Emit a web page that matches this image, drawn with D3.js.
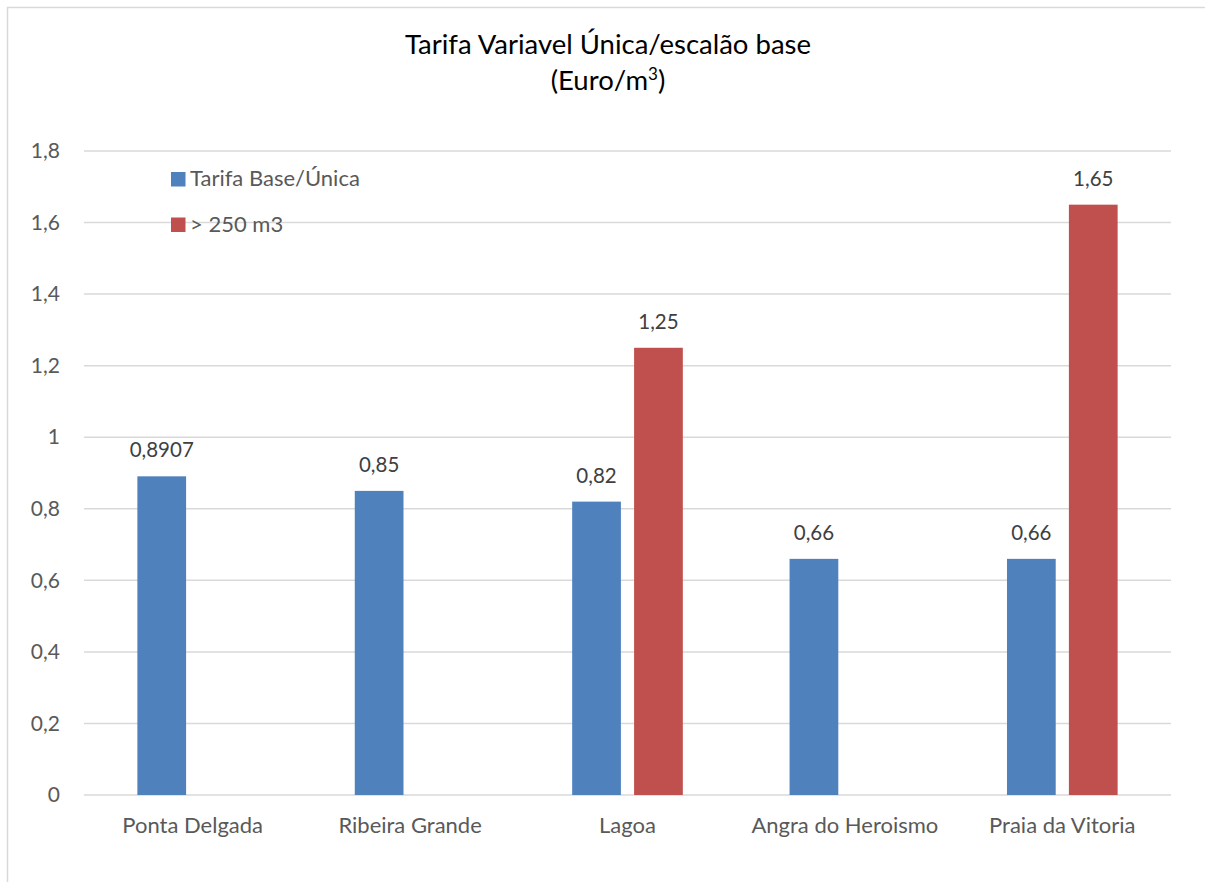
<!DOCTYPE html>
<html>
<head>
<meta charset="utf-8">
<script src="https://cdn.jsdelivr.net/npm/d3@7"></script>
<style>
  html, body { margin: 0; padding: 0; background: #fff; }
  svg { display: block; }
  text { font-family: Lato, "Open Sans", sans-serif; }
</style>
</head>
<body>
<svg id="chart" width="1205" height="882"></svg>
<script>
// Tariff data per municipality (Euro/m3)
const categories = ["Ponta Delgada", "Ribeira Grande", "Lagoa", "Angra do Heroismo", "Praia da Vitoria"];
const seriesNames = ["Tarifa Base/Única", "> 250 m3"];
const tarifaBase = [0.8907, 0.85, 0.82, 0.66, 0.66];
const acima250 = [null, null, 1.25, null, 1.65];
const baseLabels = ["0,8907", "0,85", "0,82", "0,66", "0,66"];
const acimaLabels = [null, null, "1,25", null, "1,65"];
const yTicks = [0, 0.2, 0.4, 0.6, 0.8, 1, 1.2, 1.4, 1.6, 1.8];
const seriesColors = ["#4f81bd", "#c0504d"];

const svg = d3.select("#chart");
const plot = { left: 84, right: 1171, top: 151, bottom: 795 };

// outer frame
svg.append("rect")
  .attr("x", 7.5).attr("y", 7.5)
  .attr("width", 1205).attr("height", 882)
  .attr("fill", "none").attr("stroke", "#d9d9d9").attr("stroke-width", 1.5);

const y = d3.scaleLinear().domain([0, 1.8]).range([plot.bottom, plot.top]);
const x0 = d3.scaleBand().domain(categories)
  .range([plot.left, plot.right])
  .paddingInner(0.491).paddingOuter(0.2455);
const x1 = d3.scaleBand().domain(seriesNames)
  .range([0, x0.bandwidth()])
  .paddingInner(0.213);

// gridlines
svg.append("g").selectAll("line").data(yTicks).join("line")
  .attr("x1", plot.left).attr("x2", plot.right)
  .attr("y1", d => y(d)).attr("y2", d => y(d))
  .attr("stroke", "#d9d9d9").attr("stroke-width", 1.5);

// y axis labels
const fmt = d => String(d).replace(".", ",");
const yAxis = d3.axisLeft(y).tickValues(yTicks).tickFormat(fmt).tickSize(0).tickPadding(0);
const gy = svg.append("g").attr("transform", `translate(60,0)`).call(yAxis);
gy.select(".domain").remove();
gy.selectAll("text")
  .attr("fill", "#595959").attr("font-size", 21)
  .style("font-family", "Lato, 'Open Sans', sans-serif");

// x axis labels
const xAxis = d3.axisBottom(x0).tickSize(0).tickPadding(0);
const gx = svg.append("g").attr("transform", `translate(0,${plot.bottom})`).call(xAxis);
gx.select(".domain").remove();
gx.selectAll("text")
  .attr("fill", "#595959").attr("font-size", 22)
  .attr("dy", null).attr("y", 37.5)
  .style("font-family", "Lato, 'Open Sans', sans-serif");

// bars
const rows = categories.map((c, i) => ({
  cat: c,
  vals: [
    { s: seriesNames[0], v: tarifaBase[i], label: baseLabels[i], color: seriesColors[0] },
    { s: seriesNames[1], v: acima250[i], label: acimaLabels[i], color: seriesColors[1] }
  ].filter(d => d.v !== null)
}));

const groups = svg.append("g").selectAll("g").data(rows).join("g")
  .attr("transform", d => `translate(${x0(d.cat)},0)`);

groups.selectAll("rect").data(d => d.vals).join("rect")
  .attr("x", d => x1(d.s))
  .attr("y", d => y(d.v))
  .attr("width", x1.bandwidth())
  .attr("height", d => y(0) - y(d.v))
  .attr("fill", d => d.color);

groups.selectAll("text").data(d => d.vals).join("text")
  .attr("x", d => x1(d.s) + x1.bandwidth() / 2)
  .attr("y", d => y(d.v) - 19)
  .attr("text-anchor", "middle")
  .attr("fill", "#404040").attr("font-size", 20.5)
  .text(d => d.label);

// legend
const legend = svg.append("g").selectAll("g").data(seriesNames).join("g")
  .attr("transform", (d, i) => `translate(171,${172 + i * 45.5})`);
legend.append("rect")
  .attr("width", 14.5).attr("height", 14.5)
  .attr("fill", (d, i) => seriesColors[i]);
legend.append("text")
  .attr("x", 19).attr("y", 14)
  .attr("fill", "#595959").attr("font-size", 22)
  .text(d => d);

// title
const title = svg.append("text")
  .attr("x", 608).attr("y", 54)
  .attr("text-anchor", "middle")
  .attr("fill", "#000").attr("font-size", 27.5);
title.append("tspan").attr("x", 608).text("Tarifa Variavel Única/escalão base");
const t2 = title.append("tspan").attr("x", 608).attr("dy", 36).text("(Euro/m");
t2.append("tspan").attr("font-size", 17).attr("dy", -10).text("3");
title.append("tspan").attr("dy", 10).text(")");
</script>
</body>
</html>
